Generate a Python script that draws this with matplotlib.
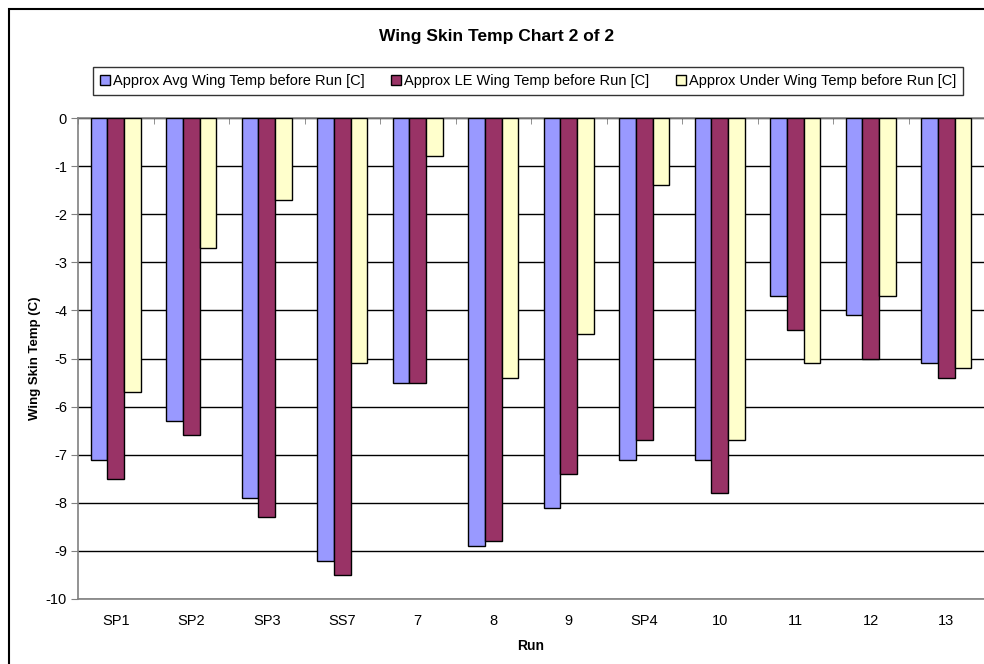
import numpy as np
import matplotlib.pyplot as plt
from matplotlib.patches import Rectangle
from matplotlib.ticker import MultipleLocator

plt.rcParams['font.family'] = ['Liberation Sans', 'DejaVu Sans']
plt.rcParams['axes.unicode_minus'] = False

runs = ['SP1', 'SP2', 'SP3', 'SS7', '7', '8', '9', 'SP4', '10', '11', '12', '13']
avg_temp = [-7.1, -6.3, -7.9, -9.2, -5.5, -8.9, -8.1, -7.1, -7.1, -3.7, -4.1, -5.1]
le_temp = [-7.5, -6.6, -8.3, -9.5, -5.5, -8.8, -7.4, -6.7, -7.8, -4.4, -5.0, -5.4]
under_temp = [-5.7, -2.7, -1.7, -5.1, -0.8, -5.4, -4.5, -1.4, -6.7, -5.1, -3.7, -5.2]

series = [
    ('Approx Avg Wing Temp before Run [C]', avg_temp, '#9999FF'),
    ('Approx LE Wing Temp before Run [C]', le_temp, '#993366'),
    ('Approx Under Wing Temp before Run [C]', under_temp, '#FFFFCC'),
]

fig = plt.figure(figsize=(9.84, 6.64), dpi=100)
ax = fig.add_axes([78 / 984, 1 - 599 / 664, 906 / 984, 481 / 664])

x = np.arange(len(runs))
w = 0.222
for i, (name, vals, col) in enumerate(series):
    ax.bar(x + (i - 1) * w, vals, width=w, color=col, edgecolor='black',
           linewidth=1.0, label=name, zorder=3)

ax.set_xlim(-0.5, len(runs) - 0.5)
ax.set_ylim(-10, 0)
ax.yaxis.set_major_locator(MultipleLocator(1))
ax.yaxis.grid(True, color='black', linewidth=1.0, zorder=0)
ax.set_axisbelow(True)

ax.set_xticks(x)
ax.set_xticklabels(runs, fontsize=10.5)
ax.tick_params(axis='x', length=0, pad=11)
ax.tick_params(axis='y', labelsize=10.5, length=5, direction='out', color='#808080', pad=3)

# category tick marks on the zero line
ax.set_xticks(np.arange(-0.5, len(runs)), minor=True)
ax.tick_params(axis='x', which='minor', top=True, bottom=False, direction='in',
               length=4, color='#808080')

for side in ['left', 'top', 'bottom']:
    ax.spines[side].set_color('#808080')
    ax.spines[side].set_linewidth(1.2)
ax.spines['right'].set_visible(False)

ax.set_xlabel('Run', fontsize=10, fontweight='bold', labelpad=8)
ax.set_ylabel('Wing Skin Temp (C)', fontsize=9.5, fontweight='bold')
ax.yaxis.set_label_coords(-(78 - 41) / 906, 0.5)

fig.text(497 / 984, 1 - 37 / 664, 'Wing Skin Temp Chart 2 of 2', ha='center',
         va='center', fontsize=12.5, fontweight='bold')

leg = fig.legend(loc='center', bbox_to_anchor=(528 / 984, 1 - 81 / 664), ncol=3,
                 fontsize=10.5, frameon=True, fancybox=False, edgecolor='black',
                 handlelength=0.7, handleheight=0.7, handletextpad=0.2,
                 columnspacing=1.8, borderpad=0.5)
leg.get_frame().set_linewidth(1.0)

# outer chart frame (cut off on the right and bottom)
fig.patches.append(Rectangle((9 / 984, -0.1), 1.1, 1 - 9 / 664 + 0.1,
                             transform=fig.transFigure, fill=False,
                             edgecolor='black', linewidth=1.5))

fig.savefig('out.png', dpi=100)
